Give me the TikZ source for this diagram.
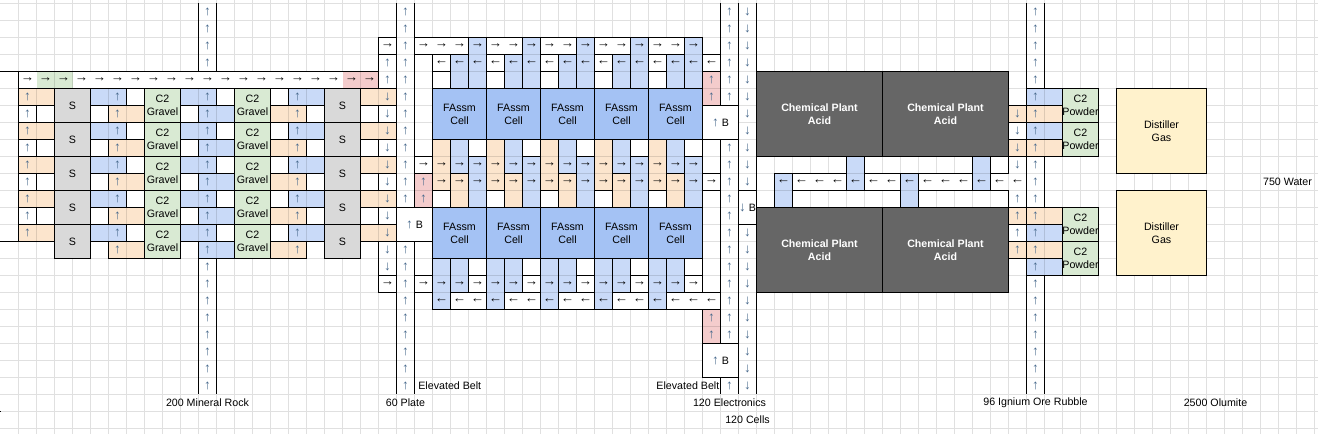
\documentclass[tikz,border=0pt]{standalone}
\usepackage{fontspec}
\setmainfont{Liberation Sans}
\definecolor{cellorange}{HTML}{FCE5CD}
\definecolor{cellblue}{HTML}{C9DAF8}
\definecolor{cellgreen}{HTML}{D9EAD3}
\definecolor{cellpink}{HTML}{F4CCCC}
\definecolor{cellgray}{HTML}{D9D9D9}
\definecolor{cellassm}{HTML}{A4C2F4}
\definecolor{cellplant}{HTML}{666666}
\definecolor{cellyellow}{HTML}{FFF2CC}
\definecolor{upright}{HTML}{46688C}
\tikzset{
  edge/.style={draw=black,line width=.75pt},
  whitebox/.style={edge,fill=white},
  orangebox/.style={edge,fill=cellorange},
  bluebox/.style={edge,fill=cellblue},
  pinkbox/.style={edge,fill=cellpink},
  graybox/.style={edge,fill=cellgray},
  greenbox/.style={edge,fill=cellgreen},
  assmbox/.style={edge,fill=cellassm},
  plantbox/.style={edge,fill=cellplant},
  yellowbox/.style={edge,fill=cellyellow},
  lab/.style={inner sep=0pt,align=center,font=\fontsize{8}{9.75}\selectfont},
  arw/.style={inner sep=0pt,font=\fontsize{10}{10}\selectfont},
  gridline/.style={draw=black,draw opacity=.12,line width=.75pt}
}
% box at column, row, width, height
\newcommand{\bx}[5]{\draw[#1] (#2,#3) rectangle ++(#4,#5);}
% arrows: column then rows, or row then columns
\newcommand{\ups}[2]{\foreach \r in {#2} {\node[arw,text=upright] (up#1-\r) at (#1.5,\r.5) {↑};}}
\newcommand{\dns}[2]{\foreach \r in {#2} {\node[arw,text=upright] (dn#1-\r) at (#1.5,\r.5) {↓};}}
\newcommand{\rts}[2]{\foreach \c in {#2} {\node[arw] (rt\c-#1) at (\c.5,#1.5) {→};}}
\newcommand{\lfs}[2]{\foreach \c in {#2} {\node[arw] (lf\c-#1) at (\c.5,#1.5) {←};}}
\newcommand{\bl}[1]{{\fontsize{10}{10}\selectfont\textcolor{upright}{#1}}~B}
\begin{document}
\begin{tikzpicture}[x=13.5pt,y=-12.75pt]
\useasboundingbox (-.5/18,-3.5/17) rectangle (1317.5/18,430.5/17);
\fill[white] (-.5/18,-3.5/17) rectangle (1317.5/18,430.5/17);

% coloured belts, the grid shows through them
\foreach \r in {5,7,...,13} {
  \bx{orangebox}{1}{\r}{2}{1}
  \bx{bluebox}{5}{\r}{2}{1}
  \bx{bluebox}{10}{\r}{2}{1}
  \bx{bluebox}{16}{\r}{2}{1}
  \bx{orangebox}{20}{\r}{2}{1}
}
\foreach \r in {6,8,...,14} {
  \bx{orangebox}{6}{\r}{2}{1}
  \bx{bluebox}{11}{\r}{2}{1}
  \bx{orangebox}{15}{\r}{2}{1}
}
\fill[cellgreen] (2,4) rectangle (4,5);
\fill[cellpink] (19,4) rectangle (21,5);
\foreach \c in {24,27,...,36} {
  \bx{bluebox}{\c+1}{3}{1}{2}
  \bx{bluebox}{\c+2}{2}{1}{3}
  \bx{orangebox}{\c}{8}{1}{3}
  \bx{bluebox}{\c+1}{8}{1}{2}
  \bx{orangebox}{\c+1}{10}{1}{2}
  \bx{bluebox}{\c+2}{9}{1}{3}
  \bx{bluebox}{\c}{15}{1}{3}
  \bx{bluebox}{\c+1}{15}{1}{2}
}
\bx{pinkbox}{23}{10}{1}{2}
\bx{pinkbox}{39}{4}{1}{2}
\bx{pinkbox}{39}{18}{1}{2}
\bx{bluebox}{43}{10}{1}{2}
\bx{bluebox}{47}{9}{1}{2}
\bx{bluebox}{50}{10}{1}{2}
\bx{bluebox}{54}{9}{1}{2}
\foreach \r in {6,8,12,14} {
  \bx{orangebox}{56}{\r}{3}{1}
}
\foreach \r in {5,7,13,15} {
  \bx{bluebox}{57}{\r}{2}{1}
}

% grid
\draw[gridline] \foreach \c in {1,...,73} {(\c,-1) -- (\c,26)}
  \foreach \r in {0,...,25} {(-1,\r) -- (74,\r)};

% white boxes
\foreach \r in {6,8,...,12} {
  \bx{whitebox}{1}{\r}{1}{1}
  \bx{whitebox}{2}{\r}{1}{1}
  \bx{whitebox}{5}{\r}{1}{1}
  \bx{whitebox}{10}{\r}{1}{1}
  \bx{whitebox}{17}{\r}{1}{1}
  \bx{whitebox}{20}{\r}{1}{1}
  \bx{whitebox}{21}{\r}{1}{1}
}
\foreach \r in {5,7,...,13} {
  \bx{whitebox}{7}{\r}{1}{1}
  \bx{whitebox}{12}{\r}{1}{1}
  \bx{whitebox}{15}{\r}{1}{1}
}
\fill[white] (1,4) rectangle (2,5);
\fill[white] (4,4) rectangle (19,5);
\draw[edge] (1,4) rectangle (21,5);
\draw[edge] (-.03,4) -- (1,4);
\draw[edge] (-.03,14) -- (1,14);
\draw[edge] (-.03,24) -- (.03,24);
\bx{whitebox}{21}{2}{1}{1}
\bx{whitebox}{21}{16}{1}{1}
\bx{whitebox}{23}{2}{3}{1}
\bx{whitebox}{23}{9}{1}{1}
\bx{whitebox}{23}{16}{1}{1}
\foreach \c in {27,30,...,36} {
  \bx{whitebox}{\c}{2}{2}{1}
}
\foreach \c in {24,27,...,36} {
  \bx{whitebox}{\c}{3}{1}{1}
  \bx{whitebox}{\c}{4}{1}{1}
  \bx{whitebox}{\c+2}{8}{1}{1}
  \bx{whitebox}{\c}{11}{1}{1}
  \bx{whitebox}{\c+2}{15}{1}{1}
  \bx{whitebox}{\c+2}{16}{1}{1}
}
\foreach \c in {25,28,31,34} {
  \bx{whitebox}{\c}{17}{2}{1}
}
\bx{whitebox}{37}{17}{3}{1}
\bx{whitebox}{39}{3}{1}{1}
\bx{whitebox}{39}{10}{1}{1}
\bx{whitebox}{44}{10}{3}{1}
\bx{whitebox}{48}{10}{2}{1}
\bx{whitebox}{51}{10}{3}{1}
\bx{whitebox}{55}{9}{1}{1}
\bx{whitebox}{56}{7}{1}{1}
\bx{whitebox}{56}{13}{1}{1}

% upright belts
\draw[edge] (11,0) -- (11,4);
\draw[edge] (12,0) -- (12,4);
\draw[edge] (11,15) -- (11,23);
\draw[edge] (12,15) -- (12,23);
\draw[edge] (21,3) -- (21,5);
\draw[edge] (21,14) -- (21,16);
\draw[edge] (22,0) -- (22,23);
\draw[edge] (23,0) -- (23,23);
\draw[edge] (40,0) -- (40,23);
\draw[edge] (41,0) -- (41,23);
\draw[edge] (42,0) -- (42,23);
\draw[edge] (57,0) -- (57,23);
\draw[edge] (58,0) -- (58,5);
\draw[edge] (58,9) -- (58,12);
\draw[edge] (58,16) -- (58,23);
\draw[edge] (55,11) -- (56,11);
\draw[edge] (56,11) -- (56,12);

% machines
\foreach \r in {5,7,...,13} {
  \bx{graybox}{3}{\r}{2}{2}
  \node[lab] (sa\r) at (4,\r+1) {S};
  \bx{graybox}{18}{\r}{2}{2}
  \node[lab] (sb\r) at (19,\r+1) {S};
  \bx{greenbox}{8}{\r}{2}{2}
  \node[lab] (ga\r) at (9,\r+1) {C2\\Gravel};
  \bx{greenbox}{13}{\r}{2}{2}
  \node[lab] (gb\r) at (14,\r+1) {C2\\Gravel};
}
\foreach \c in {24,27,...,36} {
  \bx{assmbox}{\c}{5}{3}{3}
  \node[lab] (ca\c) at (\c+1.5,6.5) {FAssm\\Cell};
  \bx{assmbox}{\c}{12}{3}{3}
  \node[lab] (cb\c) at (\c+1.5,13.5) {FAssm\\Cell};
}
\foreach \c in {42,49} {
  \foreach \r in {4,12} {
    \bx{plantbox}{\c}{\r}{7}{5}
    \node[lab,text=white,font=\fontsize{8}{9.75}\selectfont\bfseries] (pl\c-\r) at (\c+3.5,\r+2.5) {Chemical Plant\\Acid};
  }
}
\foreach \r in {5,7,12,14} {
  \bx{greenbox}{59}{\r}{2}{2}
  \node[lab] (po\r) at (60,\r+1) {C2\\Powder};
}
\bx{yellowbox}{62}{5}{5}{5}
\node[lab] (dia) at (64.5,7.5) {Distiller\\Gas};
\bx{yellowbox}{62}{11}{5}{5}
\node[lab] (dib) at (64.5,13.5) {Distiller\\Gas};
\bx{whitebox}{22}{12}{2}{2}
\node[lab] (ba) at (23,13) {\bl{↑}};
\bx{whitebox}{39}{6}{2}{2}
\node[lab] (bb) at (40,7) {\bl{↑}};
\bx{whitebox}{39}{20}{2}{2}
\node[lab] (bc) at (40,21) {\bl{↑}};
\bx{whitebox}{41}{11}{1}{2}
\node[lab] (bd) at (41.5,12) {\bl{↓}};

% arrows
\rts{4}{1,...,20}
\ups{1}{5,...,13}
\ups{6}{5,...,14}
\ups{11}{0,...,3,5,6,...,22}
\ups{16}{5,...,14}
\ups{21}{3,4}
\dns{21}{5,...,15}
\rts{2}{21,23,24,...,38}
\rts{16}{21,23,24,...,38}
\rts{9}{23,24,...,38}
\rts{10}{24,25,...,39}
\ups{22}{0,...,11,14,15,...,22}
\ups{23}{10,11}
\lfs{3}{24,...,39}
\lfs{17}{24,...,39}
\ups{39}{4,5,18,19}
\ups{40}{0,...,5,8,9,...,19,22}
\dns{41}{0,...,10,13,14,...,22}
\lfs{10}{43,...,56}
\dns{56}{6,...,9}
\ups{56}{11,...,14}
\ups{57}{0,...,22}

% labels
\node[lab,anchor=west] (ea) at (23.2,22.5) {Elevated Belt};
\node[lab,anchor=east] (eb) at (39.95,22.5) {Elevated Belt};
\node[lab] (mi) at (11.5,23.5) {200 Mineral Rock};
\node[lab] (pt) at (22.5,23.5) {60 Plate};
\node[lab] (el) at (40.5,23.5) {120 Electronics};
\node[lab] (ce) at (41.5,24.5) {120 Cells};
\node[lab] (ig) at (57.5,23.5) {96 Ignium Ore Rubble};
\node[lab] (ol) at (67.5,23.5) {2500 Olumite};
\node[lab] (wa) at (71.5,10.5) {750 Water};
\end{tikzpicture}
\end{document}
